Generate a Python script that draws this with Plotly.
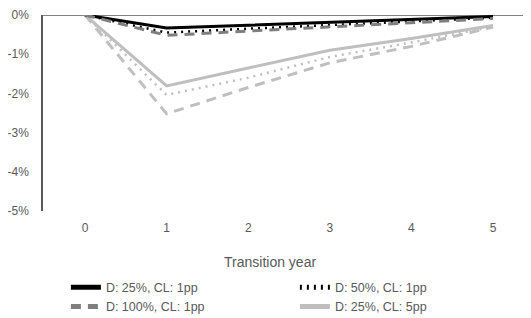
import plotly.graph_objects as go

years = [0, 1, 2, 3, 4, 5]
year_labels = ["0", "1", "2", "3", "4", "5"]

d25_cl1 = [0, -0.33, -0.26, -0.19, -0.11, -0.04]
d50_cl1 = [0, -0.45, -0.35, -0.26, -0.16, -0.07]
d100_cl1 = [0, -0.52, -0.41, -0.30, -0.19, -0.09]
d25_cl5 = [0, -1.81, -1.35, -0.90, -0.60, -0.27]
d50_cl5 = [0, -2.04, -1.60, -1.07, -0.70, -0.30]
d100_cl5 = [0, -2.52, -1.85, -1.22, -0.80, -0.31]

series = [
    ("D: 25%, CL: 1pp", d25_cl1, "#000000", "solid", 3, True),
    ("D: 50%, CL: 1pp", d50_cl1, "#000000", "2px,5px", 2.5, True),
    ("D: 100%, CL: 1pp", d100_cl1, "#7f7f7f", "10px,7px", 3, True),
    ("D: 25%, CL: 5pp", d25_cl5, "#bfbfbf", "solid", 3, True),
    ("D: 50%, CL: 5pp", d50_cl5, "#bfbfbf", "2px,5px", 2.5, False),
    ("D: 100%, CL: 5pp", d100_cl5, "#bfbfbf", "10px,7px", 3, False),
]

fig = go.Figure()
# draw light lines first so dark ones sit on top; legend order via legendrank
draw_order = [3, 4, 5, 0, 1, 2]
for i in draw_order:
    name, vals, col, dash, w, show = series[i]
    fig.add_trace(go.Scatter(
        x=years, y=vals, mode="lines", name=name, showlegend=show,
        legendrank=(i + 1) * 10,
        line=dict(color=col, dash=dash, width=w),
    ))

font_col = "#595959"
# page body has an 8px margin, so the figure is 8px smaller each way
fig.update_layout(
    width=523, height=310,
    margin=dict(l=35, r=1, t=7, b=107, autoexpand=False),
    paper_bgcolor="white", plot_bgcolor="white",
    font=dict(family="Liberation Sans, Arial, sans-serif", size=12, color=font_col),
    showlegend=True,
    legend=dict(
        orientation="h", x=0.047, xref="paper", y=-0.315, yanchor="top",
        xanchor="left", entrywidth=184, entrywidthmode="pixels",
        traceorder="normal", tracegroupgap=0, itemsizing="constant",
        font=dict(size=12.5, color=font_col), bgcolor="rgba(0,0,0,0)",
    ),
    annotations=[dict(
        text="Transition year", xref="paper", yref="paper", x=0.466, y=-0.262,
        xanchor="center", yanchor="middle", showarrow=False,
        font=dict(size=14, color=font_col),
    )],
    shapes=[dict(type="line", xref="paper", yref="y", x0=0, x1=1, y0=0, y1=0,
                 line=dict(color="#595959", width=1.5), layer="below")],
)
fig.update_xaxes(
    range=[-0.515, 5.453], tickvals=years, ticktext=year_labels,
    showgrid=False, zeroline=False, showline=False, ticks="",
    ticklabelstandoff=8, tickfont=dict(size=12, color=font_col),
)
fig.update_yaxes(
    range=[-5, 0], tickvals=[0, -1, -2, -3, -4, -5],
    ticktext=["0%", "-1%", "-2%", "-3%", "-4%", "-5%"],
    showgrid=False, zeroline=False, showline=True, linecolor="#595959", linewidth=1.5,
    ticks="", ticklabelstandoff=10, ticklabeloverflow="allow",
    tickfont=dict(size=12, color=font_col),
)

fig.write_html("out.html")
